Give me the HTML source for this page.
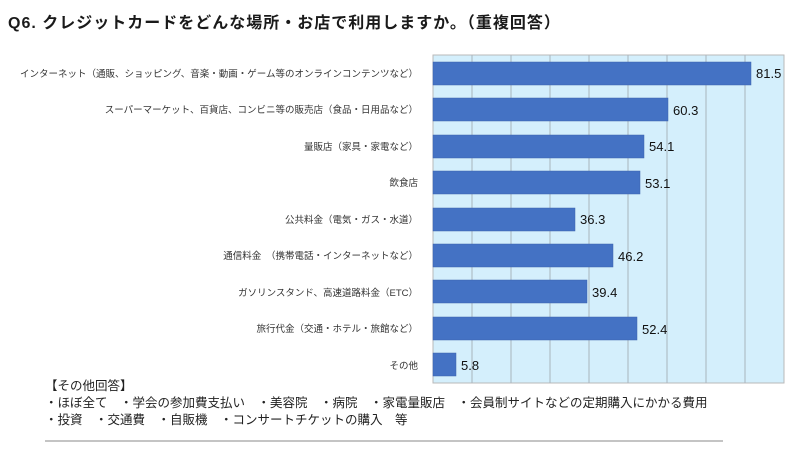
<!DOCTYPE html>
<html><head><meta charset="utf-8"><style>
body{margin:0;width:800px;height:451px;background:#fff;font-family:"Liberation Sans","Noto Sans CJK JP",sans-serif;position:relative;overflow:hidden}
.t{position:absolute;white-space:nowrap}
</style></head><body>
<div class="t" style="left:8px;top:9px;font-size:16px;font-weight:bold;color:#1a1a1a;letter-spacing:1px">Q6. クレジットカードをどんな場所・お店で利用しますか。（重複回答）</div>
<svg width="800" height="451" style="position:absolute;left:0;top:0" font-family="Liberation Sans, Noto Sans CJK JP, sans-serif">
<rect x="433" y="55" width="351" height="328" fill="#d4effc" stroke="#b9b9b9"/>
<g stroke="#a9b5bd" stroke-width="1">
<line x1="472" y1="55" x2="472" y2="383"/><line x1="511" y1="55" x2="511" y2="383"/><line x1="550" y1="55" x2="550" y2="383"/><line x1="589" y1="55" x2="589" y2="383"/><line x1="628" y1="55" x2="628" y2="383"/><line x1="667" y1="55" x2="667" y2="383"/><line x1="706" y1="55" x2="706" y2="383"/><line x1="745" y1="55" x2="745" y2="383"/>
</g>
<g fill="#4472c4" stroke="#3a63ad" stroke-width="0.5">
<rect x="433" y="62" width="318" height="23"/>
<rect x="433" y="98" width="235" height="23"/>
<rect x="433" y="135" width="211" height="23"/>
<rect x="433" y="171" width="207" height="23"/>
<rect x="433" y="208" width="142" height="23"/>
<rect x="433" y="244" width="180" height="23"/>
<rect x="433" y="280" width="154" height="23"/>
<rect x="433" y="317" width="204" height="23"/>
<rect x="433" y="353" width="23" height="23"/>
</g>
<g font-size="13" fill="#111">
<text x="756" y="78">81.5</text><text x="673" y="115">60.3</text><text x="649" y="151">54.1</text><text x="645" y="188">53.1</text><text x="580" y="224">36.3</text><text x="618" y="261">46.2</text><text x="592" y="297">39.4</text><text x="642" y="334">52.4</text><text x="461" y="370">5.8</text>
</g>
<g font-size="9.5" fill="#333" text-anchor="end">
<text x="418" y="77">インターネット（通販、ショッピング、音楽・動画・ゲーム等のオンラインコンテンツなど）</text>
<text x="418" y="113">スーパーマーケット、百貨店、コンビニ等の販売店（食品・日用品など）</text>
<text x="418" y="150">量販店（家具・家電など）</text>
<text x="418" y="186">飲食店</text>
<text x="418" y="223">公共料金（電気・ガス・水道）</text>
<text x="418" y="259">通信料金　（携帯電話・インターネットなど）</text>
<text x="418" y="296">ガソリンスタンド、高速道路料金（ETC）</text>
<text x="418" y="332">旅行代金（交通・ホテル・旅館など）</text>
<text x="418" y="369">その他</text>
</g>
<line x1="45" y1="441" x2="723" y2="441" stroke="#888" stroke-width="1"/>
</svg>
<div class="t" style="left:45px;top:378px;font-size:12.5px;color:#222;line-height:17px">【その他回答】<br>・ほぼ全て　・学会の参加費支払い　・美容院　・病院　・家電量販店　・会員制サイトなどの定期購入にかかる費用<br>・投資　・交通費　・自販機　・コンサートチケットの購入　等</div>
</body></html>
